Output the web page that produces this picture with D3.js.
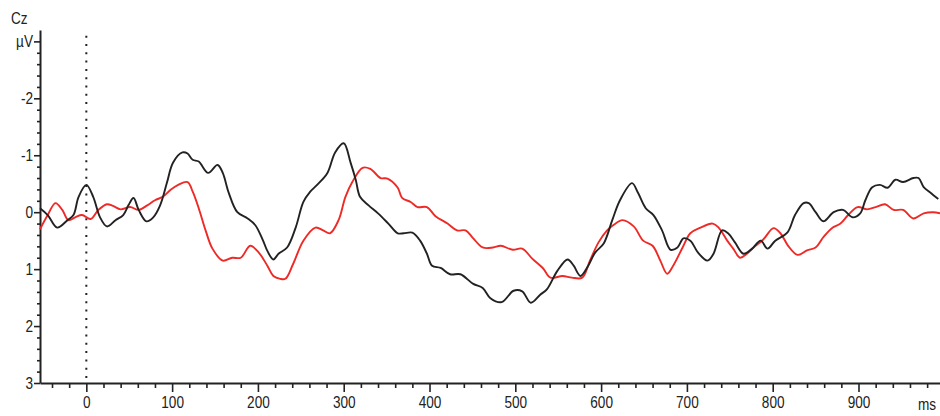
<!DOCTYPE html>
<html>
<head>
<meta charset="utf-8">
<script src="https://cdn.jsdelivr.net/npm/d3@7"></script>
<style>
  body { margin: 0; background: #fff; }
  svg { display: block; }
  text { font-family: "Liberation Sans", Arial, sans-serif; fill: #222; }
</style>
</head>
<body>
<svg id="chart" width="940" height="416"></svg>
<script>
// ERP at Cz: two conditions, time in ms, amplitude in µV (negative plotted up)
const blackMs = [-54,-45,-34,-22,-15,-9,0,8,16,24,34,43,49,55,61,70,78,86,94,101,112,118,124,131,142,153,159,166,176,188,197,206,211,218,224,234,244,253,261,269,281,290,300,308,314,319,329,340,352,363,370,380,389,397,403,413,424,436,451,462,471,484,498,508,518,529,537,549,561,568,576,585,593,603,613,622,636,643,652,661,671,681,689,696,704,713,724,731,741,748,756,766,776,786,794,803,817,826,836,842,850,859,871,882,893,902,908,916,925,934,943,952,964,970,976,984,993];
const blackUv = [-0.07,0.05,0.27,0.14,0.05,-0.27,-0.48,-0.27,0.09,0.25,0.14,0.05,-0.12,-0.25,-0.04,0.16,0.09,-0.12,-0.52,-0.87,-1.05,-1.03,-0.92,-0.89,-0.69,-0.83,-0.69,-0.34,0,0.11,0.23,0.5,0.68,0.83,0.73,0.62,0.27,-0.18,-0.36,-0.48,-0.69,-1.05,-1.21,-0.87,-0.57,-0.27,-0.12,0.02,0.2,0.37,0.37,0.36,0.5,0.73,0.94,0.98,1.09,1.09,1.26,1.33,1.51,1.58,1.38,1.39,1.59,1.45,1.35,1.03,0.83,0.94,1.12,0.94,0.71,0.55,0.14,-0.21,-0.51,-0.34,-0.07,0.05,0.32,0.66,0.62,0.46,0.5,0.71,0.85,0.73,0.32,0.37,0.53,0.73,0.64,0.5,0.64,0.5,0.36,0.05,-0.16,-0.16,0,0.16,0,-0.04,0.09,0.02,-0.21,-0.44,-0.48,-0.43,-0.57,-0.53,-0.6,-0.6,-0.44,-0.34,-0.23];

const redMs = [-54,-45,-36,-28,-21,-13,-5,5,14,24,31,40,51,61,71,80,89,98,107,118,124,131,139,147,159,170,180,191,201,211,218,226,232,241,253,267,276,284,294,302,310,322,331,343,351,363,368,378,386,397,407,421,432,442,451,462,474,483,497,508,520,532,541,555,566,578,587,597,607,614,625,638,649,660,669,677,684,695,704,716,730,737,747,754,762,770,780,789,801,809,818,829,840,850,859,870,879,888,899,910,920,931,941,952,964,976,987,995];
const redUv = [0.3,0.05,-0.16,-0.04,0.14,0.09,0.05,0.12,-0.04,-0.14,-0.11,-0.05,-0.09,-0.04,-0.12,-0.21,-0.27,-0.39,-0.48,-0.53,-0.36,-0.07,0.32,0.64,0.85,0.8,0.8,0.59,0.71,0.94,1.12,1.17,1.17,0.91,0.5,0.27,0.32,0.37,0.14,-0.27,-0.53,-0.78,-0.76,-0.6,-0.59,-0.43,-0.25,-0.18,-0.09,-0.09,0.07,0.2,0.32,0.32,0.46,0.62,0.62,0.59,0.66,0.64,0.82,0.98,1.15,1.12,1.15,1.15,0.85,0.53,0.32,0.23,0.14,0.25,0.5,0.59,0.85,1.08,0.94,0.62,0.37,0.27,0.2,0.27,0.5,0.64,0.8,0.73,0.59,0.48,0.28,0.37,0.59,0.75,0.67,0.62,0.44,0.27,0.2,0.05,-0.09,-0.05,-0.09,-0.14,-0.04,-0.04,0.11,0.02,0,0.02];

const xMajorTicks = [0,100,200,300,400,500,600,700,800,900];
const yMajorTicks = [-3,-2,-1,0,1,2,3];
const channelName = "Cz";
const yUnit = "µV";
const xUnit = "ms";

const svg = d3.select("#chart");
const x = d3.scaleLinear().domain([-54, 995]).range([40, 940]);
const y = d3.scaleLinear().domain([-3.2, 3]).range([30, 383]);
const fontSize = 17;
const textScale = 0.8;

// x axis: minor ticks every 20 ms, labelled ticks every 100 ms
const xMinor = d3.range(-40, 981, 20).filter(v => v % 100 !== 0);
const gxMinor = svg.append("g").attr("transform", `translate(0,${y(3)})`)
  .call(d3.axisBottom(x).tickValues(xMinor).tickSize(5).tickSizeOuter(0).tickFormat(""));
gxMinor.select(".domain").remove();
const gx = svg.append("g").attr("transform", `translate(0,${y(3)})`)
  .call(d3.axisBottom(x).tickValues(xMajorTicks).tickSize(9).tickSizeOuter(0).tickFormat(d => String(d)));
gx.select(".domain").attr("stroke", "#222").attr("stroke-width", 2);
gx.selectAll(".tick text").attr("y", 13).attr("font-size", fontSize)
  .attr("transform", `scale(${textScale},1)`).attr("fill", "#222");

// y axis: minor ticks every 0.2 µV
const yMinor = d3.range(-15, 16).map(i => i / 5).filter(v => !Number.isInteger(v));
const gyMinor = svg.append("g").attr("transform", `translate(${x.range()[0]},0)`)
  .call(d3.axisLeft(y).tickValues(yMinor).tickSize(3).tickSizeOuter(0).tickFormat(""));
gyMinor.select(".domain").remove();
const gy = svg.append("g").attr("transform", `translate(${x.range()[0]},0)`)
  .call(d3.axisLeft(y).tickValues(yMajorTicks).tickSize(6).tickSizeOuter(0)
    .tickFormat(d => d === -3 ? yUnit : String(d)));
gy.select(".domain").attr("stroke", "#222").attr("stroke-width", 2);
gy.selectAll(".tick text").attr("font-size", fontSize).attr("x", -7 / textScale)
  .attr("transform", `scale(${textScale},1)`).attr("fill", "#222");
svg.selectAll(".tick line").attr("stroke", "#222").attr("stroke-width", 1.6);

svg.append("text").attr("x", 11 / textScale).attr("y", 24).attr("font-size", fontSize)
  .attr("transform", `scale(${textScale},1)`).text(channelName);
svg.append("text").attr("x", 927 / textScale).attr("y", 410).attr("font-size", fontSize)
  .attr("text-anchor", "middle").attr("transform", `scale(${textScale},1)`).text(xUnit);

// stimulus onset marker
svg.append("line")
  .attr("x1", x(0)).attr("x2", x(0)).attr("y1", y(-3.1)).attr("y2", y(3))
  .attr("stroke", "#222").attr("stroke-width", 2).attr("stroke-dasharray", "2,6.3");

const line = d3.line().curve(d3.curveCatmullRom.alpha(0.5))
  .x(d => x(d[0])).y(d => y(d[1]));

svg.append("path").datum(redMs.map((t, i) => [t, redUv[i]]))
  .attr("d", line).attr("fill", "none").attr("stroke", "#ee2a27").attr("stroke-width", 1.9);
svg.append("path").datum(blackMs.map((t, i) => [t, blackUv[i]]))
  .attr("d", line).attr("fill", "none").attr("stroke", "#222").attr("stroke-width", 1.9);
</script>
</body>
</html>
